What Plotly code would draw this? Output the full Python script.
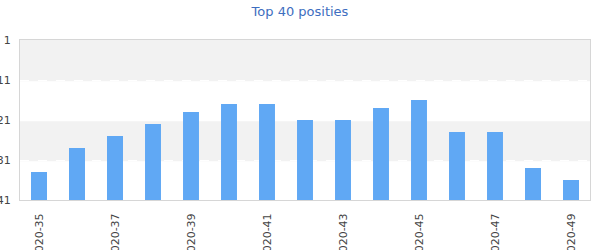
import plotly.graph_objects as go

weeks = ["2020-35", "2020-36", "2020-37", "2020-38", "2020-39", "2020-40", "2020-41",
         "2020-42", "2020-43", "2020-44", "2020-45", "2020-46", "2020-47", "2020-48", "2020-49"]
positions = [34, 28, 25, 22, 19, 17, 17, 21, 21, 18, 16, 24, 24, 33, 36]
x_tick_labels = ["2020-35", "2020-37", "2020-39", "2020-41", "2020-43", "2020-45", "2020-47", "2020-49"]
y_ticks = [1, 11, 21, 31, 41]
bottom_rank = 41

fig = go.Figure()
fig.add_trace(go.Bar(
    x=weeks,
    y=[p - bottom_rank for p in positions],
    base=[bottom_rank] * len(positions),
    marker=dict(color="#60a8f4", line=dict(width=0)),
    width=0.42,
    hoverinfo="skip",
))

# alternating bands (slightly offset so the white dashed grid shows on their lower edge)
for y0, y1 in [(1, 11.3), (21.3, 31.3)]:
    fig.add_shape(type="rect", xref="paper", yref="y", x0=0, x1=1, y0=y0, y1=y1,
                  fillcolor="#f2f2f2", line=dict(width=0), layer="below")

fig.update_layout(
    width=600, height=250,
    margin=dict(l=20, r=10, t=40, b=50),
    paper_bgcolor="white", plot_bgcolor="white",
    showlegend=False,
    title=dict(text="Top 40 posities", x=0.5, xanchor="center", y=1 - 11 / 250, yanchor="middle",
               font=dict(family="DejaVu Sans", size=13, color="#3e6ec0")),
    font=dict(family="DejaVu Sans", size=11, color="#444444"),
    bargap=0.5,
)
fig.update_xaxes(
    type="category", tickvals=x_tick_labels, ticktext=x_tick_labels, tickangle=-90,
    showgrid=False, showline=True, linecolor="#d6d6d6", linewidth=1, mirror=True,
    ticks="", ticklabelstandoff=8, automargin=False,
    tickfont=dict(family="DejaVu Sans", size=11, color="#444444"),
)
fig.update_yaxes(
    range=[bottom_rank, 1], tickvals=y_ticks, ticktext=[str(v) for v in y_ticks],
    showgrid=True, gridcolor="white", griddash="dash", gridwidth=1,
    showline=True, linecolor="#d6d6d6", linewidth=1, mirror=True,
    zeroline=False, ticks="", ticklabelstandoff=6, automargin=False,
    tickfont=dict(family="DejaVu Sans", size=11, color="#444444"),
)

fig.write_html("out.html")
